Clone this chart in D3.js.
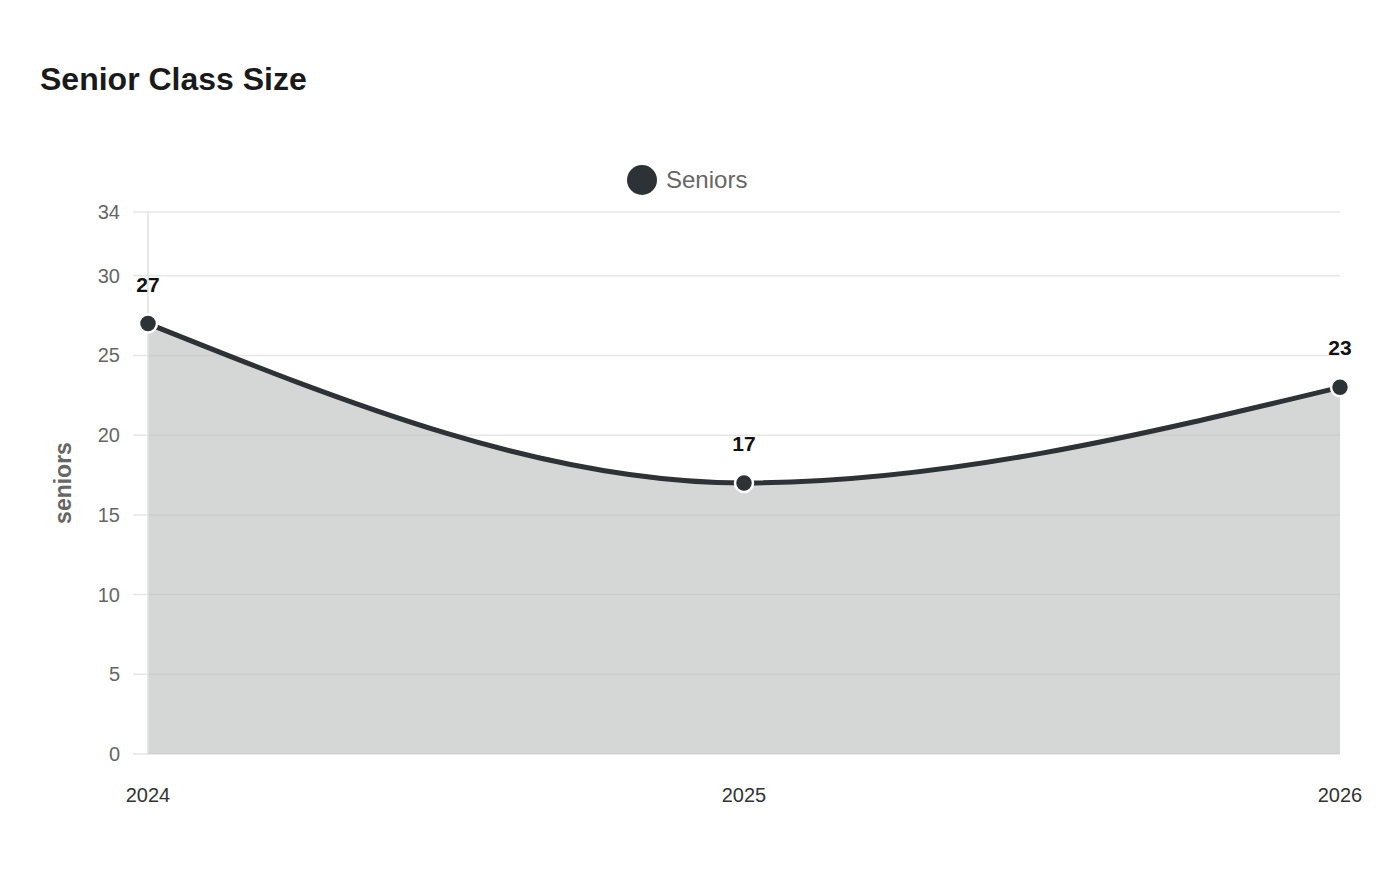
<!DOCTYPE html>
<html>
<head>
<meta charset="utf-8">
<script src="https://cdn.jsdelivr.net/npm/d3@7"></script>
<style>
  body { margin: 0; background: #fff; }
  text { font-family: "Liberation Sans", Arial, sans-serif; }
</style>
</head>
<body>
<div id="chart"></div>
<script>
const years = ["2024", "2025", "2026"];
const seniors = [27, 17, 23];
const yTicks = [0, 5, 10, 15, 20, 25, 30, 34];

const width = 1400;
const height = 880;
const margin = { top: 212, left: 148, right: 60, bottom: 126 };

const svg = d3.select("#chart").append("svg")
    .attr("width", width)
    .attr("height", height);

const x = d3.scalePoint()
    .domain(years)
    .range([margin.left, width - margin.right]);

const y = d3.scaleLinear()
    .domain([0, 34])
    .range([height - margin.bottom, margin.top]);

// title
svg.append("text")
    .attr("x", 40)
    .attr("y", 90)
    .attr("font-size", 32)
    .attr("font-weight", "bold")
    .attr("fill", "#1a1a1a")
    .text("Senior Class Size");

// legend
svg.append("circle")
    .attr("cx", 642)
    .attr("cy", 180)
    .attr("r", 15)
    .attr("fill", "#2d3236");
svg.append("text")
    .attr("x", 666)
    .attr("y", 188)
    .attr("font-size", 24)
    .attr("fill", "#666")
    .text("Seniors");

// grid
svg.append("g")
    .selectAll("line")
    .data(yTicks)
    .join("line")
    .attr("x1", margin.left - 15)
    .attr("x2", width - margin.right)
    .attr("y1", d => y(d))
    .attr("y2", d => y(d))
    .attr("stroke", "#e6e6e6")
    .attr("stroke-width", 1.5);

// area
const data = years.map((d, i) => ({ year: d, value: seniors[i] }));

const area = d3.area()
    .x(d => x(d.year))
    .y0(y(0))
    .y1(d => y(d.value))
    .curve(d3.curveMonotoneX);

svg.append("path")
    .datum(data)
    .attr("d", area)
    .attr("fill", "#bfc1c1")
    .attr("opacity", 0.65);

// y axis line
svg.append("line")
    .attr("x1", margin.left)
    .attr("x2", margin.left)
    .attr("y1", y(34))
    .attr("y2", y(0))
    .attr("stroke", "#e0e0e0")
    .attr("stroke-width", 1.5);

// y tick labels
svg.append("g")
    .selectAll("text")
    .data(yTicks)
    .join("text")
    .attr("x", margin.left - 28)
    .attr("y", d => y(d) + 7)
    .attr("text-anchor", "end")
    .attr("font-size", 20)
    .attr("fill", "#666")
    .text(d => d);

// y axis title
svg.append("text")
    .attr("transform", `translate(71, ${y(17)}) rotate(-90)`)
    .attr("text-anchor", "middle")
    .attr("font-size", 23)
    .attr("font-weight", "bold")
    .attr("fill", "#666")
    .text("seniors");

// x labels
svg.append("g")
    .selectAll("text")
    .data(years)
    .join("text")
    .attr("x", d => x(d))
    .attr("y", height - margin.bottom + 48)
    .attr("text-anchor", "middle")
    .attr("font-size", 20)
    .attr("fill", "#333")
    .text(d => d);

// line
const line = d3.line()
    .x(d => x(d.year))
    .y(d => y(d.value))
    .curve(d3.curveMonotoneX);

svg.append("path")
    .datum(data)
    .attr("d", line)
    .attr("fill", "none")
    .attr("stroke", "#2d3236")
    .attr("stroke-width", 5);

// points
svg.append("g")
    .selectAll("circle")
    .data(data)
    .join("circle")
    .attr("cx", d => x(d.year))
    .attr("cy", d => y(d.value))
    .attr("r", 9)
    .attr("fill", "#2d3236")
    .attr("stroke", "#fff")
    .attr("stroke-width", 2.5);

// value labels
svg.append("g")
    .selectAll("text")
    .data(data)
    .join("text")
    .attr("x", d => x(d.year))
    .attr("y", d => y(d.value) - 32)
    .attr("text-anchor", "middle")
    .attr("font-size", 21)
    .attr("font-weight", "bold")
    .attr("fill", "#111")
    .text(d => d.value);
</script>
</body>
</html>
